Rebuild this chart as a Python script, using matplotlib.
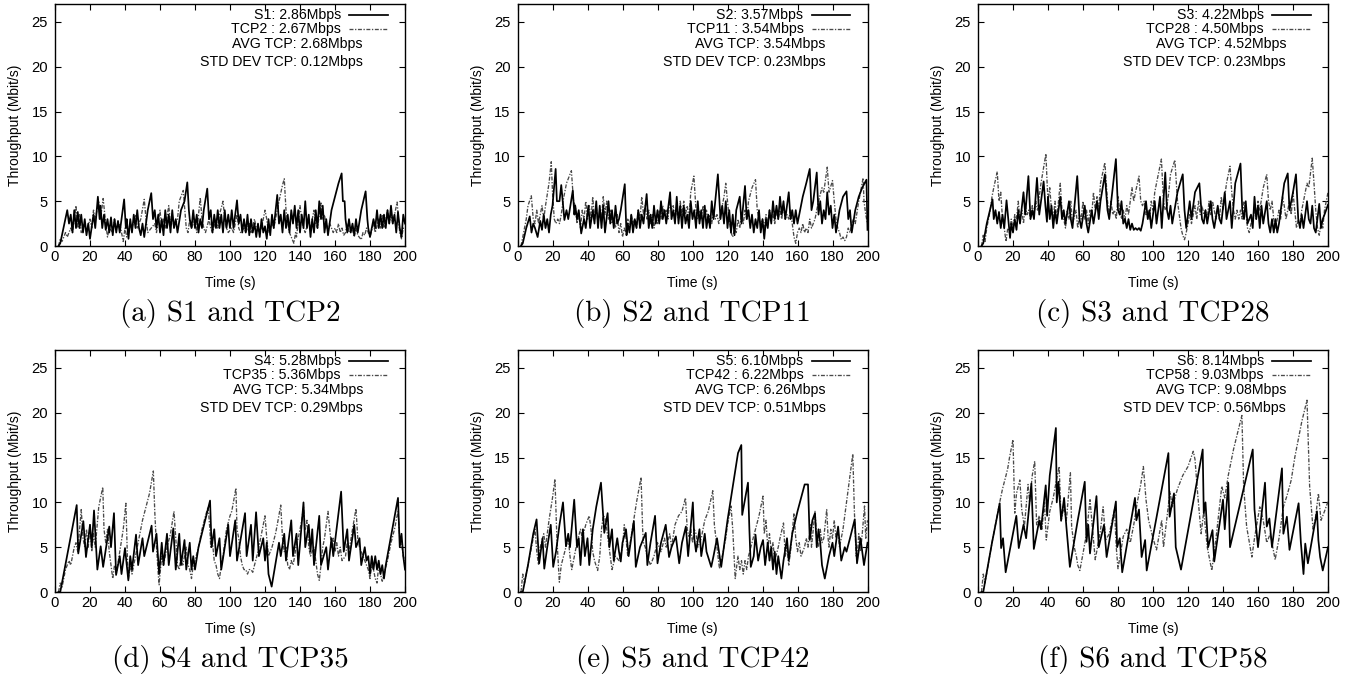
import matplotlib
matplotlib.use('Agg')
import matplotlib.pyplot as plt
from matplotlib.lines import Line2D

# ---------------- data: (time s, throughput Mbit/s) ----------------
S1 = [(2,0),(3,0.3),(7,4),(8,2.5),(9,3.5),(10,1.5),(11,4),(12,2),(13,3.8),(14,2),(15,3.5),(16,1.5),(17,3),(18,1.2),(19,2.5),(20,0.8),(22,3.5),(23,2),(24.5,5.5),(25.5,3),(26,4.5),(27,2),(28,3.5),(29,1.8),(30,3),(31,1.5),(32,3.2),(33,1.2),(34,3),(35,1.5),(36,2.8),(37,1.5),(39.5,5.2),(40.5,2),(41,3),(42,0.8),(43,3),(44,1.5),(45,3.5),(46,2),(47,4),(48,2),(49,1.2),(50,2.5),(51,1),(53,4),(55,5.9),(56,3),(57,4),(58,2),(59,3.5),(60,1.5),(61,3),(62,1.2),(63,4),(64,2),(65,3.5),(66,1.5),(67,4),(68,2),(69,3),(70,1.5),(72,4),(74,5),(75.6,7.1),(76.5,4),(77,3),(78,2),(79,4),(80,2),(81,3.5),(82,1.5),(83,3),(84,2),(85,4),(87,6.4),(88,3),(89,4),(90,1.5),(91,3.5),(92,2),(93,4),(94,2),(95,3.5),(96,1.5),(97,4),(98,2),(99,3.5),(100,2),(101,4),(102,2),(104,5.1),(105,2.5),(106,3.5),(107,1.5),(108,3),(109,1.5),(110,3.5),(111,1.2),(112,3),(113,1.5),(114,2.5),(115,1),(116,2.5),(117,1),(118,3),(119,1.5),(120,2.2),(121,0.8),(122,3),(123,1.2),(124,3.5),(125,2),(127,5.7),(128,2.5),(129,3.5),(130,1.5),(131,4),(132,2),(133,3.5),(134,1.5),(135,4),(136,2.5),(137,4.5),(138,2),(139,4),(140,1.5),(141,3.5),(142,2),(143,5),(144,2),(145,3.5),(146,1),(147,3),(148,1.5),(149,4),(150,2),(151,5),(152,3),(153,4.5),(154,1.5),(155,3),(156,1.2),(158,4),(160,5.5),(162,7),(163.8,8.1),(164.5,5),(165.5,5),(166,3),(167,1.5),(168,3),(169,1.5),(170,2.5),(171,1.2),(172,3),(173,1.5),(175,4),(177.5,6.1),(178.5,3),(179,2),(180,1),(182,3),(183,2),(184,4),(185,2),(186,3.5),(187,2),(188,3.5),(189,2),(190,4),(191,2.5),(192,4.5),(193,2.5),(194,3.5),(195,1.5),(196,3.8),(197,2),(198,1),(199,3.5),(200,2.5)]
TCP2 = [(2,0),(3,0.8),(4,0.5),(6,1.5),(7,1),(9,2),(10,1.5),(12,4.5),(13,2),(14,3.5),(15,1.5),(17,2.5),(18,1.5),(20,3),(21,2),(22,4),(23,3),(25,5),(26,3),(27.5,5.3),(29,2.5),(30,1),(31,2),(33,1.5),(34,3),(35,2),(37,2.5),(38,1.5),(39,0.5),(40,2),(41,1),(43,2.5),(44,2),(46,3.5),(47,2),(49,3),(51,5.2),(52,3),(53,1.5),(55,2),(57,2.5),(58,1.5),(60,4),(61,2),(62,3),(63,2),(65,4.5),(66,2.5),(67,3.5),(68,2),(70,3),(71,5),(73.3,6.2),(74,4.5),(75,2),(76,1.5),(77,3),(78,2),(80,3),(81,1.5),(83,5.4),(84,3),(85,2),(86,1.5),(88,3),(89,2),(90,1.5),(92,3),(93,2),(94,3.5),(96,5),(97,3),(98,2),(99,1.5),(101,2),(102,1.5),(104,3.5),(105,2),(106,1.5),(108,2),(109,1.5),(111,2.5),(112,1.5),(114,3),(115,2),(117,1.5),(118,2),(120,4),(121,3),(122,1.5),(124,2.5),(125,2),(127,4),(128,5),(130,6.8),(131,7.5),(132,4),(133,2.5),(134,1.5),(135,1),(136.5,0.3),(137.5,1.5),(138,1),(140,4.5),(141,3),(142,2),(143,1.5),(145,3),(146,2),(148,4),(149,2.5),(150,2),(152,4.8),(153,3),(154,3.5),(155,2),(157,2.5),(158,2),(159,1.5),(160,2),(161,1.5),(162,2.5),(163,1.5),(164,2),(165,1.2),(166,1.5),(167,2.5),(168,1.5),(170,1.8),(171,1),(172,2),(173,1.2),(175,0.7),(176,1.5),(177,1.2),(178,2),(179,1.5),(180,1),(182,2.5),(183,1.5),(185,3),(186,2),(187,3.5),(188,2),(190,4),(191,2.5),(192,3.5),(193,2.5),(195.5,4.9),(196.5,2.5),(197,1.5),(198,0.8),(199,2),(200,1.8)]

S2 = [(2,0),(3,0.3),(5,2),(7,3.3),(8,1.5),(9,2.5),(10,2),(11.5,1.0),(13,2.8),(14,1.8),(15,3.5),(16,2),(17,3),(18,1.5),(19,3.5),(20,4.5),(21.8,8.6),(22.5,5),(24,5),(25,6.8),(26.8,2.9),(28,4),(29,3),(31.6,6.2),(32.5,3.5),(33,4.5),(34,3),(35,4),(36.4,1.4),(38,3),(39,2),(40.5,4.5),(41.5,2),(43,4),(44,2.5),(45,5),(46,2),(47,4.5),(48,2),(49,4.5),(50,1.5),(52,5),(53,2.5),(54,4),(55,2),(56,4.5),(57,2.5),(58,3),(59,4),(61.3,6.9),(62.3,1.2),(63,2.5),(64,1.5),(65,3.5),(66,1.5),(67,3),(68,2),(69,4),(70,2),(71,3.5),(72,2.5),(73.8,5.8),(75,2),(76,3.5),(77,2),(78,4.5),(79,2.5),(80,4),(81,2.5),(82,5),(83,3),(84,4),(85,2.5),(87.2,6),(88,3),(89,4),(90,2.5),(91,5.5),(92,2.5),(93,4.5),(94,2),(95,4.5),(96,2.5),(97,3.5),(98,2),(99,5),(100,3),(101,4),(102,2),(103,5),(104,2.5),(105,4),(106,2),(107,4.5),(108,2),(109,3.5),(110,2),(111,5),(112,3),(114.5,8),(116,3),(117,4.5),(118,2.5),(119,5),(120,2),(121,4),(122,1.5),(123,3.5),(124,1.2),(125,4),(127,5.5),(128,2.5),(130,6.7),(131,3),(132,4),(133,2),(134,3.5),(135,1.5),(136,3),(137,2),(138,4),(139,1.5),(140,3),(141,0.8),(142,3),(143,2),(144,4),(145,2.5),(146,5),(147,3),(148,4.5),(149,3),(150,5.5),(151,3.5),(152,5),(153,3),(155,6),(156,3),(157,4),(158,2.5),(159,4),(160,2.5),(163,5.5),(165,7),(167,8.6),(168,4),(169,5),(171,8.2),(172,3.5),(173,5),(174,2.5),(175,4),(176,3),(177,6),(178,3.5),(179,4.5),(180,2),(181,3.5),(182,1.5),(184,4),(186,5.5),(188,6.1),(189,3),(190,4),(191,1.5),(193,4),(195,5.5),(197,6.5),(199.4,7.4),(200,1.8)]
TCP11 = [(2,0),(3,1),(5,3),(6,4.5),(7.9,5.6),(9,3),(10,2.5),(11,4),(12,2.5),(13,3.5),(14,4.5),(15,3),(16,4.5),(18,7),(19.3,9.4),(20,6),(21,3),(22,2.5),(23,3),(24,2.5),(25,3.5),(26,5),(27,6),(28,7),(30.8,8.4),(32,5),(33,4.5),(34,2.5),(35,3.5),(36,2),(37,4),(38,3),(39,5),(40,3),(41,4.5),(42,3),(43,5.5),(44,3),(45,4.5),(46,2.5),(47,4),(48,3),(49,5.5),(50,3.5),(51,5),(52,3),(53,4),(54,2.5),(55,3),(56,2),(57,3.5),(58,1.5),(59,2.5),(60,1),(61,2),(62,1.5),(63,3),(64,2),(65,3.5),(66,2.5),(67,3),(68,2),(69,4),(70,3),(71,5.5),(72,3.5),(73,4.5),(74,3),(75,4),(76,2.5),(77,3.5),(78,2),(79,3),(80,2.5),(81,4),(82,3),(83,4.5),(84,3.5),(85,4),(86,3),(87,5),(88,4),(89,4.5),(90,3),(91,4),(92,3),(93,5),(94,3.5),(95,5),(96,3.5),(97,4.5),(98,3),(99,6),(100.8,7.8),(102,4),(103,3),(104,4),(105,3),(106,4.5),(107,3.5),(108,4),(109,2.5),(110,3.5),(111,2.5),(112,4),(113,3),(114,3.5),(115,2.5),(116,3.5),(118,5.5),(119,7),(120,5),(121,3),(122,1.5),(123,1),(124,2),(125,1.5),(126,3),(127,2),(128,3.5),(129,2.5),(130,4),(131,3),(132,5),(134,6.5),(136,7.4),(137,4),(138,3),(139,2.5),(140,3),(141,2),(142,3.5),(143,2.5),(144,4),(145,3),(146,3.5),(147,2.5),(148,4),(149,3),(150,4),(151,3),(152,4.5),(153,3),(154,3.5),(155,3),(156,4),(157,2.5),(158,1),(159,0.3),(160,1.5),(161,2),(162,1.5),(163,2.5),(164,1.5),(165,2),(166,1.5),(167,3),(168,2),(170,3),(172,5),(174,6.5),(175,6),(177,8.8),(178,6),(180,7.3),(181,5),(182,3),(183,2),(184,1.5),(185,0.7),(186,1),(187,0.6),(188,1),(189,2),(190,1.5),(191,2.5),(192,3),(193,2.5),(195,5),(197.5,7.6),(198,5),(199,3.5),(200,2.5)]

S3 = [(2,0),(3,0.3),(5,2.5),(8.3,5.2),(9,3),(10,4),(11,2.5),(12,3.8),(13,2),(14,3.5),(15,2),(16.3,5.1),(18.3,0.9),(19,2.5),(20,1.5),(21,3),(22,1.8),(23,4),(24,2.5),(26,6),(27,3.5),(28.8,7.8),(30,3),(31,4),(32,3),(33.7,7.6),(35,3.5),(36,5),(37.5,7.2),(38.5,4.5),(39.4,2.7),(40,5.5),(41,3),(42,4.5),(43,2),(44,4),(45,2.5),(47,5.5),(48,3),(49,4),(50,2.5),(52,5),(53,3),(54,2),(56.7,7.8),(58,3),(59,2),(61,4.5),(62,2.5),(63,1.5),(65,4),(66,2.5),(68,5),(69,3),(70,5),(72.5,8),(74,4),(75,3),(78.8,9.7),(80,4),(81,3.5),(82,5),(83,2.5),(84,3),(85,2),(86,3),(87,1.8),(88,2.5),(89,1.8),(90,2),(91,1.8),(92,2),(93,1.7),(94,2.5),(96,5),(97,3),(98,4),(99,2),(101,5),(102,2.5),(104,5.5),(105,2),(107,8.2),(108,4),(109,3),(110,4.5),(111,2.5),(114,6),(117,8),(118,4),(119,2),(121,5),(122,3),(124,6),(126.5,7),(128,3),(129,2.5),(130,4),(131,2.5),(133,5),(134,3),(135,2),(137,4.5),(138,3),(139,2.5),(141,6),(142,3),(144,5),(145,2),(147,7),(150,9.2),(151,4),(152,3),(153,5),(154,2.5),(156,3.5),(157,2),(158,5.5),(159,3),(160,4.5),(161,2),(162,4.5),(163,2.5),(165,5),(166,2.5),(167,1.5),(168,3),(169,1.5),(170,3),(171,1.5),(172,2.5),(173,4),(175,7),(177,8.1),(178,4),(180,6),(181.7,8),(183,3),(184,2),(185,3.5),(186,2),(188,5),(189,3),(190,2.5),(191,4.5),(192,2),(193,1.5),(195,4.7),(196,2),(197,3),(198,3.5),(200,4.6)]
TCP28 = [(2,0),(3,1.2),(4,0.5),(5,2),(7,4),(8,5.5),(9,6.5),(11,8.3),(12,5),(13,6),(14,3),(15,2),(16,0.5),(17,2),(18,1.5),(19,3),(20,2),(21,3.5),(22,3),(23,5),(24,3),(25,4),(26,2.5),(27,4.5),(28,3.5),(29,4),(30,3),(31,4.5),(32,3.5),(33,5),(34,4),(36,7),(38.8,10.3),(39.5,7),(40,5),(41,6.5),(42,4),(43,3),(44,5),(45,3),(47,7),(48,4),(49,3),(50,2),(51,4),(52,3),(53,5),(54,2.5),(56,4),(57,2),(58,3.5),(59,3),(60,5),(61,3),(62,4),(63,2.5),(64,4),(65,3.5),(66,6),(67,4),(68,5.5),(69,4),(70,7),(72.5,9.3),(74,5),(75,3.5),(76,5),(77,3.5),(78,4),(79,3),(80,5.5),(81,4),(82,3),(83,4),(84,3),(85,4.5),(86,3.5),(87,5),(88,6.5),(89,5),(90,6),(92,7.8),(93,5),(94,4.5),(95,5),(96,3.5),(97,4),(98,3),(99,5),(100,4),(101,6),(102,7),(104.8,9.7),(106,5),(107,4),(108,4.5),(109,6),(110,8),(112.5,9.6),(114,5),(115,3.5),(116,2),(117,1.2),(118,0.7),(119,1.5),(120,2.5),(121,3.5),(122,2.5),(124,4.5),(125,3),(126,5),(127,3.5),(128,4.5),(129,3.5),(130,4),(131,3),(132,5),(133,3.5),(134,5),(135,4),(136,3),(137,4),(138,3),(139,5.5),(140,4),(142,7),(144,8.9),(145,6),(146,4),(147,3),(148,4),(149,3),(150,4),(151,3),(152,5),(153,4),(154,2),(155,1.5),(156,2.5),(157,3),(158,4),(159,3),(160,5),(161,4),(163,6.5),(165,8),(166,5),(167,4),(168,5),(169,3),(170,2),(171,3),(172,4),(173,3),(174,5.5),(175,4.5),(176,3),(177,4),(178,5),(179,3.5),(180,6),(181,4),(182,2),(183,3),(184,2.5),(185,4),(186,5),(188,7),(189,6.5),(191,9.8),(192,7),(193,4),(194,2),(195,1.2),(196,2.5),(197,2),(198,4),(200,6)]

S4 = [(2,0),(3,0),(12.4,9.7),(13.3,4.3),(16.2,7.9),(17.7,3.9),(20,7.5),(21,5),(22.3,9.1),(24.2,2.5),(26.1,5.1),(27.5,2.8),(31,7.3),(32,5),(33.7,8.8),(34.9,1.9),(37,4),(38,2),(40,4.9),(41.9,1.3),(43,4),(44,2.5),(46.3,6.4),(47.5,3),(50,6),(51,4),(55.2,7.4),(56,4.5),(58,6.5),(59.5,2),(61,5.5),(62,3),(64,6.5),(65,3),(67.6,7.1),(69,2.5),(71,6.5),(72,3),(74,5.8),(75,2.5),(77,5.5),(78,2.5),(79,4),(80,2.5),(82,5),(88.6,10.2),(89.5,5),(91,7),(92,4),(94,6),(95,2.5),(99,7.5),(100,4),(103,8),(104,3.5),(108.6,8.8),(109.5,4),(112,7.5),(113,3.5),(114.9,8.9),(116.5,4),(119,6),(120,3.5),(121,5.5),(122,2),(123.8,0.6),(128,5.5),(129,4),(131,6.5),(132,3.5),(135,8),(136,4),(138,6.5),(139,3),(142,10),(143,5),(145,7.5),(146,4.5),(147,7),(148,3),(151,8.5),(152,3),(155,5),(156,2.5),(158,6),(159,4),(163.5,11.2),(165,4.5),(167,7),(168,3.5),(171,7.5),(172,5),(174,6),(175,3),(177,5),(178,3.5),(179,4),(180,2),(181,4),(182,2.5),(183,4),(184,2.5),(185,3.5),(186,2),(187,3),(188,1.5),(189,3),(196,10.5),(197,5),(198,6.5),(199,4),(200,2.5)]
TCP35 = [(2,0),(3,1),(4,0.5),(6,2.5),(8,3.5),(9,3),(11,5),(12,5.5),(13,4.5),(15,9.2),(16,6),(17,5),(18,7),(19,5),(20,7.5),(21,4.5),(22,6.5),(23,5),(25,9.5),(27.3,11.7),(28,7),(29,5.5),(30,7),(31,4.5),(32,3),(33,1.5),(34,3),(35,2),(37,4.5),(39,7),(40.5,9.9),(41.5,3),(42,1.5),(43,3),(44,2),(46,4),(48,6),(50,8),(52,9.5),(54,11),(56.2,13.5),(57,9),(58,5),(59,2),(59.5,0.8),(60,2),(61,4),(62,3),(64,5),(66,6.5),(68,9),(69,6),(70,3),(71,2.5),(72,4),(73,3),(75,5),(76,3),(77,2.5),(78,1.5),(79,3),(80,3.5),(82,5),(84,7),(86,8.5),(87.5,9.5),(88.5,7),(89,5),(90,5.5),(91,3.5),(92,3),(93,2),(94,1.5),(95,3),(96,4),(97,5.5),(98,7),(100,8.5),(101,9),(103.4,11.6),(104,7),(105,6),(106,4),(107,3),(108,2.5),(109,2.5),(110,2),(111,2.5),(112,2.5),(113,2.2),(114,3),(116,4.5),(118,6.5),(120,8.5),(121,6),(122,4),(124,5),(126,6.5),(127,7.5),(129,9.7),(130,6),(131,4.5),(132,5),(133,3),(134,2.5),(135,3.5),(136,3),(137,4),(138,5.5),(139,6),(141,8),(142,9.5),(143,7),(144,8),(145,5),(146,4),(148,5),(149,3.5),(150,2),(151,1.3),(152,3),(153,5),(154,6),(156,9),(157,7),(158,5),(159,6),(160,4.5),(161,5.5),(162,4),(163,5),(164,3.5),(166,4),(167,5.5),(168,4.5),(170,7),(172,9.3),(173,6),(174,5),(175,4.5),(176,4),(177,3.5),(178,3),(179,2.5),(180,1.5),(181,3),(182,2.5),(183,1.5),(184,1),(185,3),(186,2),(187,1.2),(188,2),(190,3.5),(192,5.5),(194,7),(196,9),(197,6),(198,5.5),(199,4),(200,3.5)]

S5 = [(2,0),(3,0),(6,3),(9,6.5),(10.9,8.1),(12.4,3.2),(14.3,6),(15.3,2.6),(17,5),(19,7.5),(20.4,2.8),(22,4.5),(24,7.5),(26,10),(27.7,5.1),(29,6.5),(30,5),(32.4,10.3),(34,5),(35,6),(36,3),(37.4,7),(38.5,4),(40,6),(41,3),(43,7),(45,9.5),(47.7,12.2),(49.6,6.6),(51.5,8.8),(52.5,5),(54,7),(55,3.5),(57,6),(58,4.5),(59,3.4),(60,5.5),(62,7),(63.5,4),(65,6),(66.5,7.9),(67.6,2.8),(70,5),(73.3,6.6),(74.2,3),(76,5.5),(78.6,8.5),(80,3.2),(82,5.5),(84.7,7.5),(86.6,3.9),(88,5),(90.5,6.2),(92.4,3.2),(94,5.5),(96.2,7.3),(97.5,4),(100.2,10),(101,6),(102,4.5),(104,7),(105,4),(107,6.5),(108,4.5),(110.7,2.8),(112,4),(114,6),(116.4,2.8),(120,8),(124,13),(126,15.5),(127.9,16.4),(128.4,8.6),(131.7,12.2),(132.5,7),(133.3,2.8),(135,4),(136,6.4),(137.5,3.5),(139,5),(140.3,5.8),(141.5,3),(143,5.5),(144,3.5),(145,5),(146,2.5),(147,4.5),(148,2),(149,4),(150.8,1.5),(152,3.5),(154,6),(155,3.5),(157,6.5),(160,9),(164.1,12),(166,12),(167,5.8),(168.5,8),(170,8.8),(171,5),(172,7),(173,5.5),(174,3),(175.6,1.5),(178,4),(180,5.5),(181,4),(183.2,7.3),(185,3.5),(187,5),(188,4.5),(190,6),(192.7,8.1),(194,3.2),(196,6),(197,4.5),(198,3),(200,5.5)]
TCP42 = [(2,0),(3,2),(4,1),(6,3),(8,5),(10,7),(11,4.5),(12,3),(13,5),(15,6.5),(16,5),(18,8),(20,10.5),(21.4,12.6),(22.5,6),(23.9,1.1),(25,3),(27,4.5),(29,6),(30,4),(31,2.5),(33,4.5),(34,5.5),(36,7),(37,6),(39,7.5),(41,8.5),(42,7),(43,4.5),(44,3.5),(45.8,2.4),(47,4),(48,7),(49,8.5),(50,8.3),(51,7),(52,5.5),(53,4),(54,2.5),(56,4),(58,3.5),(60,5),(61,7.5),(62,6),(63,4),(64,5),(66,7.5),(68,10),(70.6,12.8),(71.5,7),(72,5.5),(73,5),(74,4),(76,3),(78,4),(80,5.5),(82,4.5),(84,6),(85,5),(87,6.5),(88,5),(90,7.5),(92,8.5),(94,9),(96,10.5),(97,7),(98,6.2),(99,7),(100,5.5),(101,7),(102,6.5),(103,5),(105,6),(107,8),(109,9),(111.6,11.3),(112.5,7.5),(114,5),(115.4,2.6),(117,4),(119,6),(120,7.5),(122,9.6),(123,7),(124.4,1.5),(125,2.5),(126,4),(127,2.5),(128,3.5),(129,2),(130,3.5),(131,2.5),(132,4),(134,5.5),(136,7),(138,8.5),(140.3,10.7),(141,6.5),(142,8),(143,5),(144,6.5),(145,4.5),(146,5.5),(147,3.5),(149,5),(150,6),(152,7.7),(153,4),(154,5),(155,3),(156,4.5),(158,8.8),(159,6),(160,4.5),(161,5.5),(162,4),(164,5),(165,6),(166,5),(167.5,7.5),(168,5),(170,9),(171,6),(172,5),(173,7),(174,5.5),(175,6),(176.7,9.2),(177.5,6),(178,5),(179,7),(180,6),(181,8),(182,6),(183,7),(184,5),(186,7),(188,10),(190,13),(191.6,15.4),(192.5,9),(193.5,4),(194.5,5),(195,6.5),(196,4.5),(197,6.5),(198.3,9.6),(199,6),(200,8)]

S6 = [(2,0),(3,0),(8,5.5),(12.4,9.9),(13.2,4.9),(14.3,6),(15.8,2.2),(21.9,8.5),(23.3,4.9),(26,7.5),(27.5,6),(30.5,12.1),(31.9,4.8),(35,8),(36,7),(38.7,11.9),(39.5,8.5),(41,13),(43,16),(44.5,18.3),(45,10),(46,12.3),(47.5,8),(49.2,10.5),(50.5,7.3),(52.5,2.8),(57,8),(61,12.3),(62,5.6),(63,7.5),(64,4.3),(67.7,10.7),(69,5),(72,7.5),(73.5,3.9),(78.8,10.1),(79.5,5),(81,6),(82.4,2.2),(89.7,10.5),(90.5,8),(92,9.2),(93.5,3.9),(95.5,5.8),(96.4,2.4),(108.8,15.5),(109.5,8.4),(112,11),(113,5),(116,2.5),(128.4,15.9),(129,8.8),(130,10),(131.5,5),(134,6.9),(135,3.4),(140,10.3),(141,7),(143,12.2),(144,5),(157,15.9),(158,9.2),(160,5),(164,12.2),(165,7.3),(166.5,8.2),(168,5),(173.7,13.8),(174.5,6.5),(176.5,8.4),(178,4.7),(183.2,9.9),(184.5,5.5),(186,2),(187,5.4),(188.5,3.2),(193.7,9),(194.5,5.8),(195.5,3.9),(197,2.4),(200,5)]
TCP58 = [(2,0),(3,2),(4,1),(8,5.5),(12.4,10),(14,11.5),(16,13),(17,13.8),(18,15),(20,17),(21,8.8),(22,11),(23.9,12.5),(25,9.2),(26.5,7.3),(28.6,12),(29.5,10),(31,13),(32.4,14.6),(33.5,7.5),(35,8.5),(36.5,7),(38,10),(39,5.8),(41,9),(43,10.5),(44.8,12.5),(46.4,14),(47.5,7.9),(49,9.5),(50.5,8),(52.8,13.3),(53.5,7.3),(55,5),(56.3,3.9),(57,3),(58.2,2.4),(60,4.3),(62,6.5),(64,10.3),(65.5,6.9),(67,3.6),(70,6.9),(71.5,9.5),(73,5.8),(75,6.5),(78,9.2),(79,5),(80,2.6),(83,6.2),(85,7),(87,5.5),(89,7.5),(91,10),(93,12),(94.5,14),(96,10.3),(97.5,8),(100,6),(102,4.7),(105,8),(106,5),(109.7,11.2),(111,9.5),(114,11.5),(117,13),(120,14),(123,15.7),(124,14.8),(125.5,11),(127.5,6.5),(129,9),(131,5),(133.6,2.4),(136,6),(139.3,11.8),(141,10.5),(143,13),(146,15.9),(148,17.5),(150.8,19.7),(151.8,11.8),(153.5,7.3),(156.5,3.9),(158,6),(161,9.5),(163,8),(165,5.5),(167,6.5),(169.8,3.6),(172,6),(174.5,9.5),(176.5,10.7),(179,12.5),(181,15),(183,17),(185,19),(188,21.4),(189.5,11.8),(191.5,6.9),(193,8.5),(194.5,11),(196,8),(198,9),(200,10.1)]

LEGENDS = [
    ["S1: 2.86Mbps", "TCP2 : 2.67Mbps", "AVG TCP: 2.68Mbps", "STD DEV TCP: 0.12Mbps"],
    ["S2: 3.57Mbps", "TCP11 : 3.54Mbps", "AVG TCP: 3.54Mbps", "STD DEV TCP: 0.23Mbps"],
    ["S3: 4.22Mbps", "TCP28 : 4.50Mbps", "AVG TCP: 4.52Mbps", "STD DEV TCP: 0.23Mbps"],
    ["S4: 5.28Mbps", "TCP35 : 5.36Mbps", "AVG TCP: 5.34Mbps", "STD DEV TCP: 0.29Mbps"],
    ["S5: 6.10Mbps", "TCP42 : 6.22Mbps", "AVG TCP: 6.26Mbps", "STD DEV TCP: 0.51Mbps"],
    ["S6: 8.14Mbps", "TCP58 : 9.03Mbps", "AVG TCP: 9.08Mbps", "STD DEV TCP: 0.56Mbps"],
]
CAPTIONS = ["(a) S1 and TCP2", "(b) S2 and TCP11", "(c) S3 and TCP28",
            "(d) S4 and TCP35", "(e) S5 and TCP42", "(f) S6 and TCP58"]
SOLID = [S1, S2, S3, S4, S5, S6]
DASHED = [TCP2, TCP11, TCP28, TCP35, TCP42, TCP58]
XTICKS = list(range(0, 201, 20))
YTICKS = [0, 5, 10, 15, 20, 25]

# ---------------- drawing ----------------
W, H = 1361, 675
fig = plt.figure(figsize=(W / 100, H / 100), dpi=100)
SANS = 'Liberation Sans'
lefts = [55, 517.5, 978]
bottoms = [246, 592]
caption_y = [313, 659]
aw, ah = 350, 242
dash_style = (0, (3.0, 1.2, 1.0, 1.2))
DASH_COLOR = '#4a4a4a'

for i in range(6):
    r, c = divmod(i, 3)
    ax = fig.add_axes([lefts[c] / W, 1 - bottoms[r] / H, aw / W, ah / H])
    ts, ys = zip(*SOLID[i])
    td, yd = zip(*DASHED[i])
    ax.plot(td, yd, color=DASH_COLOR, lw=0.95, ls=dash_style)
    ax.plot(ts, ys, color='black', lw=1.25)
    ax.set_xlim(0, 200)
    ax.set_ylim(0, 27)
    ax.set_xticks(XTICKS)
    ax.set_yticks(YTICKS)
    ax.tick_params(direction='in', length=4, width=0.8, top=True, right=True,
                   labelsize=10.6)
    ax.tick_params(axis='x', pad=3)
    ax.tick_params(axis='y', pad=5)
    for lab in ax.get_xticklabels() + ax.get_yticklabels():
        lab.set_fontfamily(SANS)
    for sp in ax.spines.values():
        sp.set_linewidth(1.0)
    ax.set_xlabel('Time (s)', fontsize=10, fontfamily=SANS)
    ax.set_ylabel('Throughput (Mbit/s)', fontsize=10, fontfamily=SANS)
    ax.xaxis.set_label_coords(0.5, -0.122)
    ax.yaxis.set_label_coords(-0.094, 0.5)

    leg = LEGENDS[i]
    rows = [0.955, 0.897, 0.835, 0.762]
    xr = [0.817, 0.817, 0.88, 0.88]
    for k in range(4):
        ax.text(xr[k], rows[k], leg[k], transform=ax.transAxes, ha='right',
                va='center', fontsize=10.2, fontfamily=SANS)
    ax.add_line(Line2D([0.84, 0.951], [rows[0], rows[0]], transform=ax.transAxes,
                       color='black', lw=1.25))
    ax.add_line(Line2D([0.84, 0.951], [rows[1], rows[1]], transform=ax.transAxes,
                       color=DASH_COLOR, lw=0.95, ls=dash_style))

    fig.text((lefts[c] + aw / 2) / W, 1 - caption_y[r] / H, CAPTIONS[i],
             ha='center', va='center', fontsize=21, fontfamily='cmr10')

fig.savefig('out.png', dpi=100)
